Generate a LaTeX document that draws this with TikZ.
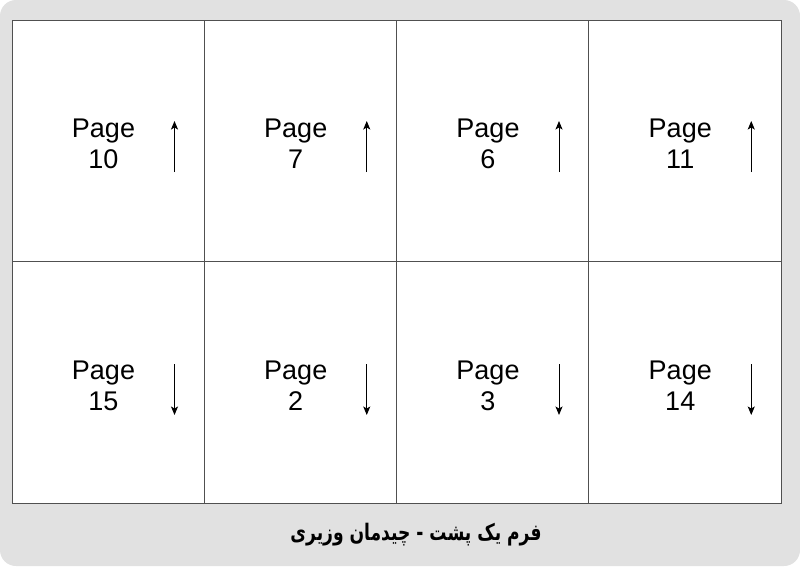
\documentclass[tikz,border=0pt]{standalone}
\usepackage{fontspec}
\setmainfont{Liberation Sans}
\newfontfamily\arabicfont[Script=Arabic]{DejaVu Sans}
\TeXXeTstate=1
\usetikzlibrary{arrows.meta}
\definecolor{bggray}{HTML}{E1E1E1}
\definecolor{linegray}{HTML}{505050}
\tikzset{
  cellbox/.style={draw=linegray, fill=white, line width=1pt, minimum width=192.25pt, minimum height=241.5pt, inner sep=0pt},
  pagelbl/.style={anchor=base, inner sep=0pt, font=\fontsize{27}{30}\selectfont},
  dirarrow/.style={-{Stealth[length=8.5pt,width=7pt,inset=2pt]}, line width=1pt, black},
  caption/.style={font=\arabicfont\bfseries\fontsize{19}{22}\selectfont, inner sep=0pt}
}
\begin{document}
\begin{tikzpicture}[x=1pt,y=-1pt]
\useasboundingbox (0,0) rectangle (800,566);
\fill[white] (0,0) rectangle (800,566);
\fill[bggray, rounded corners=16pt] (0,0) rectangle (800,566);
% top row
\foreach \i/\n in {0/10,1/7,2/6,3/11}{
  \node[cellbox] (t\i) at ({12+192.25*\i+96.125},140.75) {};
  \node[pagelbl] (tp\i) at ({12+192.25*\i+91.5},137) {Page};
  \node[pagelbl] (tn\i) at ({12+192.25*\i+91.5},168) {\n};
  \coordinate (ts\i) at ({12+192.25*\i+162.5},172);
  \coordinate (te\i) at ({12+192.25*\i+162.5},121);
  \draw[dirarrow] (ts\i) -- (te\i);
}
% bottom row
\foreach \i/\n in {0/15,1/2,2/3,3/14}{
  \node[cellbox] (b\i) at ({12+192.25*\i+96.125},382.25) {};
  \node[pagelbl] (bp\i) at ({12+192.25*\i+91.5},379) {Page};
  \node[pagelbl] (bn\i) at ({12+192.25*\i+91.5},410) {\n};
  \coordinate (bs\i) at ({12+192.25*\i+162.5},364);
  \coordinate (be\i) at ({12+192.25*\i+162.5},415);
  \draw[dirarrow] (bs\i) -- (be\i);
}
\node[caption] (cap) at (416,535) {\scalebox{0.9}[1.2]{\beginR فرم یک پشت - چیدمان وزیری\endR}};
\end{tikzpicture}
\end{document}
